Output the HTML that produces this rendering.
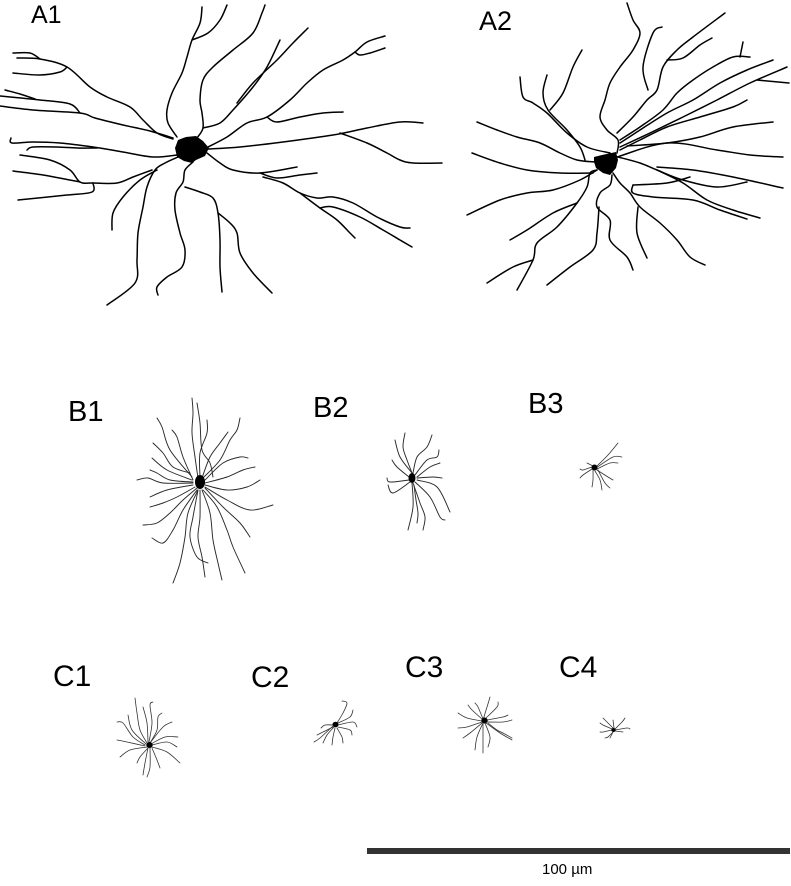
<!DOCTYPE html>
<html><head><meta charset="utf-8">
<style>
html,body{margin:0;padding:0;background:#fff;}
svg{display:block;}
.a{fill:none;stroke:#000;stroke-width:1.5;stroke-linejoin:round;stroke-linecap:round;}
.b{fill:none;stroke:#2a2a2a;stroke-width:0.95;stroke-linejoin:round;stroke-linecap:round;}
.c{fill:none;stroke:#333;stroke-width:0.8;stroke-linejoin:round;stroke-linecap:round;}
text{font-family:"Liberation Sans",Arial,sans-serif;fill:#000;}
</style></head>
<body>
<svg id="fig" width="791" height="886" viewBox="0 0 791 886" xmlns="http://www.w3.org/2000/svg">
<!-- Labels -->
<text x="31" y="23" font-size="25">A1</text>
<text x="479" y="30" font-size="27">A2</text>
<text x="68" y="421" font-size="29">B1</text>
<text x="313" y="417" font-size="29">B2</text>
<text x="528" y="413" font-size="29">B3</text>
<text x="53" y="686" font-size="30">C1</text>
<text x="251" y="687" font-size="30">C2</text>
<text x="405" y="677" font-size="30">C3</text>
<text x="559" y="677" font-size="30">C4</text>

<!-- A1 -->
<g class="a">
<polyline points="177,137 168,123 167,110 172,93 182,73 187,57 192,40 200,23 202,7"/>
<polyline points="192,40 208,33 220,20 227,5"/>
<polyline points="197,138 203,128 202,113 200,100 203,80 213,67 233,50 253,33 262,13 265,5"/>
<polyline points="203,128 220,123 233,110 253,87 267,67 280,40"/>
<polyline points="237,103 253,83 277,60 293,43 308,28"/>
<polyline points="208,147 227,137 247,123 267,117 290,100 307,83 323,70 343,60 355,52 367,42 385,36"/>
<polyline points="355,52 360,55 370,53 385,48"/>
<polyline points="267,117 277,122 300,117 323,113 343,112"/>
<polyline points="208,149 240,147 283,142 333,135 367,128 400,122 423,123"/>
<polyline points="340,133 367,143 387,153 400,160 413,163 442,163"/>
<polyline points="207,153 220,163 233,170 260,173 297,167"/>
<polyline points="260,173 277,178 300,175 317,173"/>
<polyline points="263,177 283,183 300,193 317,198 333,197 353,203 377,217 400,227 410,228"/>
<polyline points="320,208 333,207 360,217 383,230 400,240 412,247"/>
<polyline points="300,193 320,208 337,220 350,233 355,238"/>
<polyline points="193,162 185,170 183,182 176,193 175,210 180,233 185,250 182,267 167,277 157,287 158,295"/>
<polyline points="185,187 200,192 213,198 218,213 220,240 220,267 222,292"/>
<polyline points="218,213 230,223 237,233 240,253 253,273 272,293"/>
<polyline points="178,157 165,163 155,170 147,187 143,207 138,233 137,260 135,283 107,305"/>
<polyline points="157,170 140,180 123,197 113,213 112,230"/>
<polyline points="177,155 153,157 123,152 93,147 60,143 33,142 12,143 11,138"/>
<polyline points="97,148 77,148 57,147 33,147 27,150"/>
<polyline points="152,170 133,177 117,183 93,183 80,182 70,170 50,160 20,155"/>
<polyline points="80,182 43,175 13,171"/>
<polyline points="93,183 92,192 67,195 18,200"/>
<polyline points="173,139 157,133 143,120 130,107 107,97 90,87 67,67 40,59 17,58"/>
<polyline points="67,67 60,72 40,75 13,73"/>
<polyline points="40,59 30,53 13,53"/>
<polyline points="173,138 150,131 123,125 95,118 80,113 33,110 0,106"/>
<polyline points="5,90 20,94 35,99"/>
<polyline points="80,113 70,104 40,100 0,96"/>
</g>
<polygon fill="#000" points="178,140 186,137 196,136 203,141 209,148 205,156 196,160 192,163 184,161 177,157 175,148"/>

<!-- A2 -->
<g class="a">
<polyline points="617,153 618,140 607,130 600,117 605,100 610,83 620,67 633,50 640,33 633,20 627,3"/>
<polyline points="617,133 633,117 647,100 657,90 663,67 677,50 693,37 725,13"/>
<polyline points="648,90 643,67 653,33 662,27"/>
<polyline points="667,60 683,58 700,45 712,38"/>
<polyline points="620,140 640,127 663,110 677,93 693,80 713,67 733,57 750,57"/>
<polyline points="740,57 743,42"/>
<polyline points="620,143 640,130 667,113 693,100 720,83 747,70 773,60"/>
<polyline points="620,147 650,133 683,117 717,100 750,83 787,67"/>
<polyline points="757,80 789,83"/>
<polyline points="620,150 640,140 667,127 700,117 733,107 747,100"/>
<polyline points="627,146 667,143 700,137 733,127 773,122"/>
<polyline points="617,157 667,143 717,150 750,155 783,157"/>
<polyline points="618,157 640,163 657,170 683,180 717,187 747,182"/>
<polyline points="657,167 693,170 733,177 783,188"/>
<polyline points="657,170 683,183 707,200 733,210 760,218"/>
<polyline points="633,185 633,193 653,197 693,200 720,210 747,219"/>
<polyline points="633,185 667,183 690,177"/>
<polyline points="613,173 620,183 630,193 640,207 660,223 677,240 690,257 705,265"/>
<polyline points="638,207 637,233 647,258"/>
<polyline points="612,175 610,185 600,193 597,207 610,220 610,240 627,257 633,270"/>
<polyline points="599,207 597,233 593,250 570,267 547,285"/>
<polyline points="597,170 590,173 587,187 577,203 557,227 537,243 533,260 517,290"/>
<polyline points="533,260 513,267 487,283"/>
<polyline points="577,203 553,213 527,230 510,240"/>
<polyline points="597,170 580,180 553,190 527,193 500,200 467,215"/>
<polyline points="593,173 560,173 527,170 500,163 472,153"/>
<polyline points="595,162 577,160 560,153 540,143 517,137 497,130 477,122"/>
<polyline points="610,153 587,147 567,133 547,113 533,103 523,97 520,77"/>
<polyline points="585,160 580,147 567,130 548,110 543,93 547,75"/>
<polyline points="550,110 563,93 573,67 582,50"/>
</g>
<polygon fill="#000" points="594,157 602,155 616,152 618,160 616,168 610,175 603,173 596,168 594,162"/>

<!-- B1 -->
<g class="b">
<polyline points="198,478 195,457 192,433 193,413 192,398"/>
<polyline points="197,403 200,423 202,450 210,463 213,477"/>
<polyline points="200,477 200,453 207,433 207,420"/>
<polyline points="193,480 183,457 177,437 172,430"/>
<polyline points="192,477 170,450 162,427 157,418"/>
<polyline points="190,473 173,467 163,453 153,443"/>
<polyline points="192,480 167,470 152,458"/>
<polyline points="193,482 170,480 157,473 150,470"/>
<polyline points="193,483 163,483 148,478 137,480"/>
<polyline points="193,485 167,490 150,497"/>
<polyline points="195,487 177,497 163,503 150,507"/>
<polyline points="197,488 183,500 170,513 157,523 143,525"/>
<polyline points="197,490 183,510 173,530 163,543 152,538"/>
<polyline points="198,490 188,513 185,537 180,563 173,583"/>
<polyline points="198,490 193,517 190,537 197,557 208,563"/>
<polyline points="200,490 200,517 198,537 202,557 205,577"/>
<polyline points="202,490 210,513 213,540 218,563 222,580"/>
<polyline points="203,490 217,507 227,530 233,547 245,573"/>
<polyline points="205,488 223,507 240,523 250,537"/>
<polyline points="205,487 227,500 250,510 273,505"/>
<polyline points="205,485 227,490 247,487 260,480"/>
<polyline points="205,483 227,477 243,470 255,467"/>
<polyline points="205,480 223,463 240,457 248,458"/>
<polyline points="203,478 220,460 230,440 237,430 240,418"/>
<polyline points="202,478 210,457 220,443 228,432"/>
</g>
<ellipse cx="200" cy="482" rx="5" ry="7" fill="#000"/>

<!-- B2 -->
<g class="b">
<polyline points="412,473 407,460 403,447 405,433"/>
<polyline points="412,473 400,457 395,440"/>
<polyline points="413,473 417,457 427,447 432,435"/>
<polyline points="415,475 427,460 437,457 439,450"/>
<polyline points="417,477 430,467 440,463"/>
<polyline points="417,478 433,477 442,478"/>
<polyline points="417,480 437,487 450,512"/>
<polyline points="415,482 430,497 440,517 445,520"/>
<polyline points="413,483 420,503 425,517 423,530"/>
<polyline points="412,483 413,507 408,530"/>
<polyline points="410,482 393,493 388,485"/>
<polyline points="409,480 390,482 387,478"/>
<polyline points="409,477 397,467 392,460"/>
<polyline points="414,485 416,500 418,513 417,523"/>
</g>
<ellipse cx="412" cy="478" rx="3.5" ry="5" fill="#000"/>

<!-- B3 -->
<g class="c">
<polyline points="597,466 608,455 618,443"/>
<polyline points="596,468 613,457 622,457"/>
<polyline points="597,469 610,463 618,463"/>
<polyline points="597,470 608,477 613,480"/>
<polyline points="595,471 600,480 602,490"/>
<polyline points="593,470 593,480 592,487"/>
<polyline points="592,469 583,475 580,478"/>
<polyline points="592,467 583,470 580,469"/>
<polyline points="593,466 587,463"/>
<polyline points="598,470 605,483 610,488"/>
</g>
<ellipse cx="594.5" cy="467.5" rx="3" ry="3" fill="#000"/>

<!-- C1 -->
<g class="c">
<polyline points="147,743 140,730 137,713 135,698"/>
<polyline points="148,742 147,723 143,707"/>
<polyline points="149,742 152,723 150,705 153,702"/>
<polyline points="150,743 157,730 158,717 162,713"/>
<polyline points="150,743 163,727 172,722"/>
<polyline points="145,745 133,737 123,723 117,722"/>
<polyline points="145,746 127,742 117,740"/>
<polyline points="147,747 130,750 120,757"/>
<polyline points="148,748 140,757 137,763"/>
<polyline points="148,748 145,763 143,775"/>
<polyline points="150,748 150,767 147,777"/>
<polyline points="152,748 157,760 160,768"/>
<polyline points="152,747 167,752 180,763"/>
<polyline points="152,745 167,742 177,747"/>
<polyline points="151,744 165,737 178,737"/>
<polyline points="146,744 132,730 128,715"/>
</g>
<ellipse cx="149.5" cy="745" rx="3.2" ry="3" fill="#000"/>

<!-- C2 -->
<g class="c">
<polyline points="337,723 343,713 347,703 342,701"/>
<polyline points="338,723 350,717 353,710"/>
<polyline points="338,725 353,722 357,727"/>
<polyline points="338,727 350,730 352,735"/>
<polyline points="337,728 342,737 343,743"/>
<polyline points="335,728 333,737 332,745"/>
<polyline points="334,727 327,735 323,743"/>
<polyline points="333,727 323,732 317,735"/>
<polyline points="333,725 325,725 321,728"/>
<polyline points="333,726 320,738 314,742"/>
</g>
<ellipse cx="335.5" cy="724.5" rx="3" ry="2.8" fill="#000"/>

<!-- C3 -->
<g class="c">
<polyline points="483,720 487,707 490,697"/>
<polyline points="485,719 497,707 498,702"/>
<polyline points="487,720 503,717 508,715"/>
<polyline points="487,722 503,722 512,720"/>
<polyline points="486,723 500,733 512,740"/>
<polyline points="488,723 497,730 503,733 512,738"/>
<polyline points="485,723 490,737 488,747"/>
<polyline points="483,723 483,740 483,753"/>
<polyline points="483,723 477,737 475,750"/>
<polyline points="482,723 470,733 463,738"/>
<polyline points="482,722 467,727 458,728"/>
<polyline points="482,721 467,718 458,713"/>
<polyline points="482,719 472,710 468,705"/>
<polyline points="483,719 478,707 475,703"/>
</g>
<ellipse cx="484.5" cy="720.5" rx="3.2" ry="3" fill="#000"/>

<!-- C4 -->
<g class="c">
<polyline points="613,728 607,722 603,718"/>
<polyline points="614,728 613,720"/>
<polyline points="615,729 622,722 625,718"/>
<polyline points="615,730 627,728 630,729"/>
<polyline points="615,731 623,732"/>
<polyline points="613,732 608,737 605,738"/>
<polyline points="612,730 603,732 600,732"/>
<polyline points="613,732 610,738"/>
<polyline points="612,729 603,725 600,723"/>
</g>
<ellipse cx="613.5" cy="730" rx="2.2" ry="2" fill="#000"/>

<!-- Scale bar -->
<rect x="367" y="848" width="423" height="6" fill="#333"/>
<text x="542" y="874" font-size="15">100 µm</text>
</svg>
<script>
(function(){
  var ns="http://www.w3.org/2000/svg";
  var pls=document.querySelectorAll('#fig polyline');
  for(var k=0;k<pls.length;k++){
    var pl=pls[k];
    var raw=pl.getAttribute('points').trim().split(/\s+/);
    var p=raw.map(function(s){var a=s.split(',');return [parseFloat(a[0]),parseFloat(a[1])];});
    if(p.length<3) continue;
    var d='M'+p[0][0]+','+p[0][1];
    for(var i=0;i<p.length-1;i++){
      var p0=p[i-1]||p[i], p1=p[i], p2=p[i+1], p3=p[i+2]||p[i+1];
      var c1x=p1[0]+(p2[0]-p0[0])/6, c1y=p1[1]+(p2[1]-p0[1])/6;
      var c2x=p2[0]-(p3[0]-p1[0])/6, c2y=p2[1]-(p3[1]-p1[1])/6;
      d+=' C'+c1x.toFixed(1)+','+c1y.toFixed(1)+' '+c2x.toFixed(1)+','+c2y.toFixed(1)+' '+p2[0]+','+p2[1];
    }
    var path=document.createElementNS(ns,'path');
    path.setAttribute('d',d);
    pl.parentNode.replaceChild(path,pl);
  }
})();
</script>
</body></html>
